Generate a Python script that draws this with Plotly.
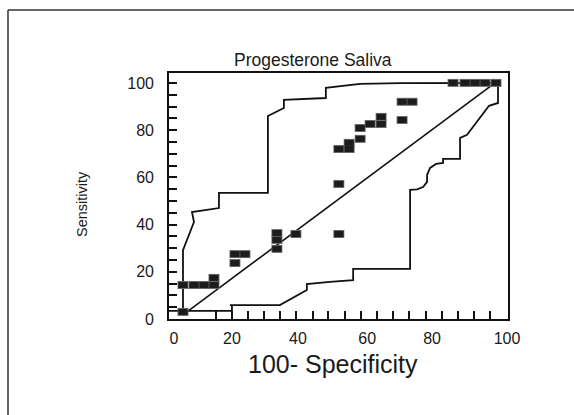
import plotly.graph_objects as go

# ---- data ----
pts_x = [2.7, 2.7, 6.0, 9.0, 12.0, 12.0, 18.3, 18.3, 21.3, 30.9, 30.9, 30.9, 36.6,
         49.5, 49.5, 49.5, 52.6, 52.6, 55.9, 55.9, 58.9, 62.2, 62.2, 68.5, 68.5, 71.5,
         83.8, 87.4, 90.4, 93.4, 96.7]
pts_y = [3.0, 14.4, 14.4, 14.4, 14.4, 17.4, 23.7, 27.5, 27.5, 29.7, 33.5, 36.4, 36.0,
         36.0, 57.2, 72.0, 72.0, 74.6, 76.3, 80.9, 82.6, 82.6, 85.6, 84.3, 92.0, 92.0,
         100, 100, 100, 100, 100]

# confidence band (lower boundary, then upper boundary back down)
band_x = [-1.5, 17.4, 17.4, 16.8, 31.8, 39.9, 39.9, 46.8, 53.8, 53.8, 70.9, 70.9,
          73.0, 74.8, 76.0, 76.0, 76.9, 78.7, 80.8, 80.8, 85.9, 85.9, 88.0, 94.6,
          97.3, 97.3,
          82.3, 68.0, 55.9, 46.8, 45.6, 45.6, 33.0, 33.0, 28.2, 28.2, 13.5, 13.5,
          5.4, 6.0, 2.7, 2.7]
band_y = [3.4, 3.4, 5.9, 5.9, 5.9, 12.3, 14.8, 15.7, 16.5, 21.2, 21.2, 54.7,
          54.9, 55.9, 58.1, 61.0, 64.0, 65.7, 66.1, 67.8, 67.8, 76.7, 78.0, 90.3,
          91.5, 100,
          100, 99.9, 99.6, 98.2, 97.9, 93.6, 92.8, 89.4, 86.0, 53.4, 53.4, 47.0,
          45.3, 41.1, 29.2, 3.4]

diag_x = [3.9, 96.4]
diag_y = [3.0, 100]

title_text = "Progesterone Saliva"
x_title = "100- Specificity"
y_title = "Sensitivity"

# x tick labels and tick marks as placed in the (scanned) original
x_label_vals = [0, 17.4, 37.2, 58.0, 77.5, 100]
x_label_text = ["0", "20", "40", "60", "80", "100"]
x_tick_marks = [12.6, 17.4, 22.2, 27.0, 31.8, 36.6, 41.7, 46.2, 51.4, 56.2, 61.0,
                65.8, 70.6, 75.7, 80.5, 85.3, 90.1, 94.9]
y_label_vals = [0, 20, 40, 60, 80, 100]

fig = go.Figure()
fig.add_trace(go.Scatter(x=band_x, y=band_y, mode="lines",
                         line=dict(color="#111111", width=1.8), hoverinfo="skip"))
fig.add_trace(go.Scatter(x=diag_x, y=diag_y, mode="lines",
                         line=dict(color="#111111", width=1.6), hoverinfo="skip"))
fig.add_trace(go.Scatter(x=pts_x, y=pts_y, mode="markers",
                         marker=dict(symbol="line-ew", size=7.8,
                                     line=dict(color="#6a6a6a", width=8))))
fig.add_trace(go.Scatter(x=pts_x, y=pts_y, mode="markers",
                         marker=dict(symbol="line-ew", size=6.6,
                                     line=dict(color="#1c1c1c", width=6))))

FONT = "Liberation Sans, Arial"
axis_common = dict(showgrid=False, zeroline=False, showline=True, mirror=True,
                   linecolor="#111111", linewidth=1.6,
                   tickfont=dict(family=FONT, size=16, color="#1a1a1a"))

fig.update_xaxes(range=[-1.5, 100.3], ticklabelstandoff=4,
                 tickmode="array", tickvals=x_label_vals, ticktext=x_label_text,
                 ticks="",
                 minor=dict(tickmode="array", tickvals=x_tick_marks, ticks="inside",
                            ticklen=8, tickwidth=1.6, tickcolor="#111111"),
                 **axis_common)
fig.update_yaxes(range=[0, 104.2], ticklabelstandoff=10,
                 tickmode="array", tickvals=y_label_vals,
                 ticktext=[str(v) for v in y_label_vals],
                 ticks="inside", ticklen=8, tickwidth=1.6, tickcolor="#111111",
                 minor=dict(dtick=5, tick0=0, ticks="inside", ticklen=8,
                            tickwidth=1.6, tickcolor="#111111"),
                 **axis_common)

W, H = 574, 415
L, R, T, B = 169, 508, 73, 319


def px_to_paper(px, py):
    return (px - L) / (R - L), (B - py) / (B - T)


annos = []
tx, ty = px_to_paper(313, 60)
annos.append(dict(text=title_text, x=tx, y=ty, xref="paper", yref="paper",
                  showarrow=False, xanchor="center", yanchor="middle",
                  font=dict(family=FONT, size=17.5, color="#1a1a1a")))
tx, ty = px_to_paper(333, 364)
annos.append(dict(text=x_title, x=tx, y=ty, xref="paper", yref="paper",
                  showarrow=False, xanchor="center", yanchor="middle",
                  font=dict(family=FONT, size=25, color="#1a1a1a")))
tx, ty = px_to_paper(82, 204)
annos.append(dict(text=y_title, x=tx, y=ty, xref="paper", yref="paper",
                  showarrow=False, xanchor="center", yanchor="middle", textangle=-90,
                  font=dict(family=FONT, size=14.5, color="#1a1a1a")))

# outer frame (left and top edges)
x0, y0 = px_to_paper(8, 10)
x1, _ = px_to_paper(574, 10)
_, y1 = px_to_paper(8, 415)
shapes = [
    dict(type="line", xref="paper", yref="paper", x0=x0, y0=y0, x1=x1, y1=y0,
         line=dict(color="#333333", width=1.5)),
    dict(type="line", xref="paper", yref="paper", x0=x0, y0=y0, x1=x0, y1=y1,
         line=dict(color="#333333", width=1.5)),
]

fig.update_layout(width=W, height=H, margin=dict(l=L, r=W - R, t=T, b=H - B),
                  paper_bgcolor="white", plot_bgcolor="white", showlegend=False,
                  annotations=annos, shapes=shapes)

fig.write_html("out.html")
